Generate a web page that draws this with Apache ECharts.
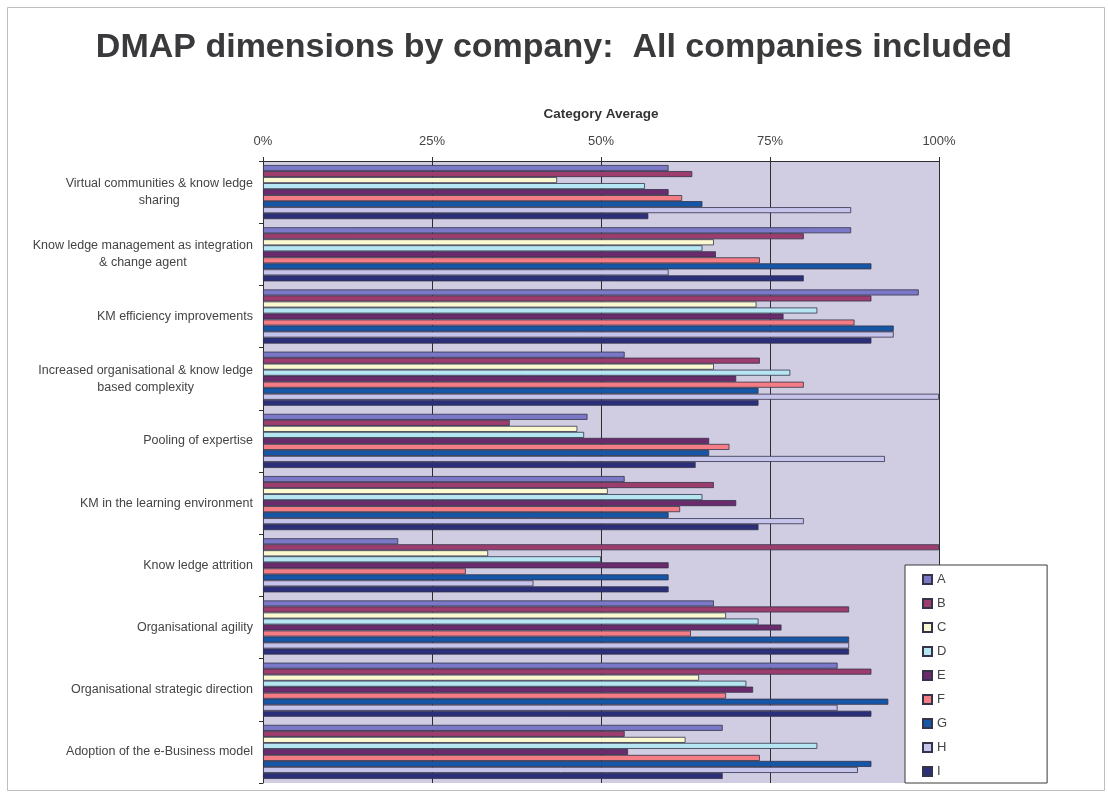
<!DOCTYPE html>
<html>
<head>
<meta charset="utf-8">
<title>DMAP dimensions by company</title>
<script src="https://cdn.jsdelivr.net/npm/echarts@6/dist/echarts.min.js"></script>
<style>
  html, body { margin: 0; padding: 0; background: #ffffff; }
  #chart { width: 1108px; height: 802px; }
</style>
</head>
<body>
<div id="chart"></div>
<script>
// DMAP dimensions (category axis, top to bottom)
const dimensions = [
  'Virtual communities & know ledge\nsharing',
  'Know ledge management as integration\n& change agent',
  'KM efficiency improvements',
  'Increased organisational & know ledge\nbased complexity',
  'Pooling of expertise',
  'KM in the learning environment',
  'Know ledge attrition',
  'Organisational agility',
  'Organisational strategic direction',
  'Adoption of the e-Business model'
];

// Category average (%) per company, one value per dimension
const companyA = [60, 87, 97, 53.5, 48, 53.5, 20, 66.7, 85, 68];
const companyB = [63.5, 80, 90, 73.5, 36.5, 66.7, 100, 86.7, 90, 53.5];
const companyC = [43.5, 66.7, 73, 66.7, 46.5, 51, 33.3, 68.5, 64.5, 62.5];
const companyD = [56.5, 65, 82, 78, 47.5, 65, 50, 73.3, 71.5, 82];
const companyE = [60, 67, 77, 70, 66, 70, 60, 76.7, 72.5, 54];
const companyF = [62, 73.5, 87.5, 80, 69, 61.7, 30, 63.3, 68.5, 73.5];
const companyG = [65, 90, 93.3, 73.3, 66, 60, 60, 86.7, 92.5, 90];
const companyH = [87, 60, 93.3, 100, 92, 80, 40, 86.7, 85, 88];
const companyI = [57, 80, 90, 73.3, 64, 73.3, 60, 86.7, 90, 68];

const companyNames = ['A', 'B', 'C', 'D', 'E', 'F', 'G', 'H', 'I'];
const companyValues = [companyA, companyB, companyC, companyD, companyE, companyF, companyG, companyH, companyI];
const companyColors = ['#7b78c8', '#9c3d6e', '#fbf9cf', '#b6e6f2', '#6b2a6b', '#f47c85', '#1656a6', '#c7c4ec', '#2b2e78'];

// Top axis ticks
const axisMin = 0;
const axisMax = 100;
const axisStep = 25;

const FONT = 'Liberation Sans, Arial, sans-serif';

const chart = echarts.init(document.getElementById('chart'), null, { renderer: 'canvas' });

const series = companyNames.map((name, i) => ({
  name: name,
  type: 'bar',
  data: companyValues[i],
  barGap: '0%',
  barCategoryGap: '13%',
  itemStyle: {
    color: companyColors[i],
    borderColor: '#33334a',
    borderWidth: 0.8
  },
  emphasis: { disabled: true }
}));

chart.setOption({
  animation: false,
  backgroundColor: '#ffffff',
  title: {
    text: 'DMAP dimensions by company:  All companies included',
    left: 'center',
    top: 26,
    textStyle: {
      fontFamily: FONT,
      fontSize: 34,
      fontWeight: 'bold',
      color: '#3a3a3c'
    }
  },
  graphic: [{
    type: 'rect',
    shape: { x: 7.5, y: 7.5, width: 1097, height: 783 },
    style: { fill: 'none', stroke: '#bdbdbd', lineWidth: 1 },
    silent: true,
    z: -1
  }],
  legend: {
    orient: 'vertical',
    left: 905,
    top: 565,
    padding: [7, 100, 4, 17],
    itemWidth: 9,
    itemHeight: 9,
    itemGap: 9,
    icon: 'rect',
    backgroundColor: '#ffffff',
    borderColor: '#3a3a3a',
    borderWidth: 1,
    borderRadius: 0,
    textStyle: {
      fontFamily: FONT,
      fontSize: 13,
      color: '#444444',
      lineHeight: 15
    },
    data: companyNames
  },
  grid: {
    left: 263,
    right: 169,
    top: 161,
    bottom: 19,
    show: true,
    backgroundColor: '#d0cce2',
    borderWidth: 0
  },
  xAxis: {
    type: 'value',
    position: 'top',
    min: axisMin,
    max: axisMax,
    interval: axisStep,
    name: 'Category Average',
    nameLocation: 'middle',
    nameGap: 40,
    nameTextStyle: {
      fontFamily: FONT,
      fontSize: 13.5,
      fontWeight: 'bold',
      color: '#333333'
    },
    axisLine: { show: true, lineStyle: { color: '#2e2e2e', width: 1 } },
    axisTick: { show: true, length: 4, lineStyle: { color: '#2e2e2e' } },
    axisLabel: {
      formatter: '{value}%',
      margin: 13,
      fontFamily: FONT,
      fontSize: 13,
      color: '#444444'
    },
    splitLine: { show: true, lineStyle: { color: '#2e2e2e', width: 1 } }
  },
  yAxis: {
    type: 'category',
    inverse: true,
    data: dimensions,
    axisLine: { show: true, lineStyle: { color: '#2e2e2e', width: 1 } },
    axisTick: { show: true, length: 4, lineStyle: { color: '#2e2e2e' } },
    axisLabel: {
      margin: 10,
      fontFamily: FONT,
      fontSize: 12.5,
      color: '#444444',
      lineHeight: 17,
      formatter: function (value) {
        return value.split('\n').map(line => '{c|' + line + '}').join('\n');
      },
      rich: {
        c: {
          align: 'center',
          fontFamily: FONT,
          fontSize: 12.5,
          color: '#444444',
          lineHeight: 17
        }
      }
    }
  },
  series: series
});
</script>
</body>
</html>
